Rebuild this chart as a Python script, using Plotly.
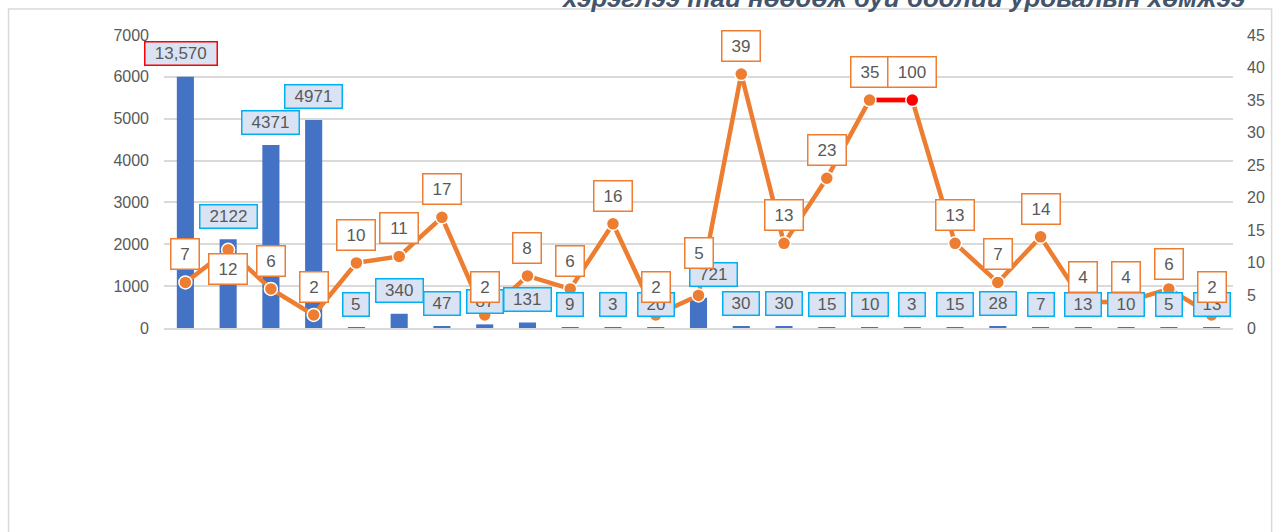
import plotly.graph_objects as go

# --- datos ---
categories = list(range(25))

bar_values = [6000, 2122, 4371, 4971, 5, 340, 47, 87, 131, 9, 3, 20, 721,
              30, 30, 15, 10, 3, 15, 28, 7, 13, 10, 5, 13]
bar_labels = ["13,570", "2122", "4371", "4971", "5", "340", "47", "87", "131", "9",
              "3", "20", "721", "30", "30", "15", "10", "3", "15", "28", "7",
              "13", "10", "5", "13"]

line_values = [7, 12, 6, 2, 10, 11, 17, 2, 8, 6, 16, 2, 5, 39, 13, 23, 35, 35,
               13, 7, 14, 4, 4, 6, 2]
line_labels = ["7", "12", "6", "2", "10", "11", "17", "2", "8", "6", "16", "2", "5",
               "39", "13", "23", "35", "100", "13", "7", "14", "4", "4", "6", "2"]

left_ticks = [0, 1000, 2000, 3000, 4000, 5000, 6000, 7000]
right_ticks = [0, 5, 10, 15, 20, 25, 30, 35, 40, 45]

title_text = "хэрэглээ тай нөөдөж буй бодлий уровалын хөмжээ"

BLUE = "#4472C4"
ORANGE = "#ED7D31"
GRAY = "#595959"
FONT = "Liberation Sans, Arial, sans-serif"

fig = go.Figure()

fig.add_trace(go.Bar(
    x=categories, y=bar_values, marker=dict(color=BLUE, line=dict(width=0)),
    width=0.4, yaxis="y", hoverinfo="skip", showlegend=False,
))

fig.add_trace(go.Scatter(
    x=categories, y=line_values, mode="lines+markers", yaxis="y2",
    line=dict(color=ORANGE, width=4.5),
    marker=dict(size=13, color=ORANGE, line=dict(color="white", width=1.5)),
    showlegend=False, hoverinfo="skip",
))

# tramo rojo entre los dos puntos altos
fig.add_trace(go.Scatter(
    x=categories[16:18], y=line_values[16:18], mode="lines+markers", yaxis="y2",
    line=dict(color="#FF0000", width=4.5),
    marker=dict(size=13, color=[ORANGE, "#FF0000"], line=dict(color="white", width=1.5)),
    showlegend=False, hoverinfo="skip",
))

annotations = []

# etiquetas de barras
bar_xshift = {0: -4, 12: 15}
for i, (v, t) in enumerate(zip(bar_values, bar_labels)):
    ndig = sum(c.isdigit() for c in t)
    annotations.append(dict(
        x=categories[i], y=v, xref="x", yref="y", text=t, showarrow=False,
        yshift=23, xshift=bar_xshift.get(i, 0),
        font=dict(family=FONT, size=17, color=GRAY),
        bgcolor="#DAE3F3", bordercolor="#FF0000" if i == 0 else "#00B0F0",
        borderwidth=1.5, borderpad=1, width=10.5 * ndig + 12 + (4 if "," in t else 0),
        height=20,
    ))

# etiquetas de linea
line_yshift = {1: -19, 12: 42, 21: 25, 22: 25, 23: 25}
for i, (v, t) in enumerate(zip(line_values, line_labels)):
    annotations.append(dict(
        x=categories[i], y=v, xref="x", yref="y2", text=t, showarrow=False,
        yshift=line_yshift.get(i, 28),
        font=dict(family=FONT, size=17, color=GRAY),
        bgcolor="white", bordercolor=ORANGE,
        borderwidth=1.5, borderpad=2.5, width=10 * len(t) + 12, height=24,
    ))

# titulo (cortado arriba, como en el original)
annotations.append(dict(
    x=1.0135, y=1.126, xref="paper", yref="paper", xanchor="right", yanchor="middle",
    text="<b><i>" + title_text + "</i></b>", showarrow=False,
    font=dict(family=FONT, size=26, color="#44546A"),
))

fig.update_layout(
    width=1276, height=532,
    margin=dict(l=163.6, r=42.6, t=35, b=204),
    paper_bgcolor="white", plot_bgcolor="white",
    xaxis=dict(range=[-0.5, 24.5], showticklabels=False, showgrid=False,
               zeroline=False, showline=True, linecolor="#D9D9D9", linewidth=2,
               ticks="", automargin=False),
    yaxis=dict(range=[0, 7000], tickvals=left_ticks, showgrid=True,
               gridcolor="#D9D9D9", gridwidth=1.5, zeroline=False,
               tickfont=dict(family=FONT, size=16, color=GRAY),
               ticks="", ticklabelstandoff=14, automargin=False),
    yaxis2=dict(range=[0, 45], tickvals=right_ticks, overlaying="y", side="right",
                showgrid=False, zeroline=False,
                tickfont=dict(family=FONT, size=16, color=GRAY),
                ticks="", ticklabelstandoff=13, automargin=False),
    annotations=annotations,
    shapes=[dict(type="rect", xref="paper", yref="paper",
                 x0=-0.1454, x1=1.0361, y0=-0.74, y1=1.0887,
                 line=dict(color="#D9D9D9", width=1.5), layer="below")],
)

# quitar el margen del body para que la figura empiece en (0, 0)
fig.write_html("out.html", config={"displayModeBar": False},
               post_script="document.body.style.margin='0';")
